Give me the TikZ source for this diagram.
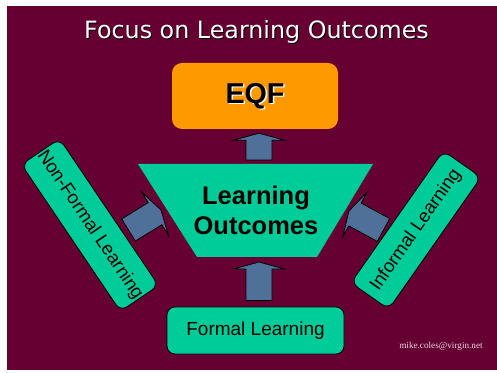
\documentclass[tikz,border=0pt]{standalone}
\usepackage{fontspec}
\setmainfont{Liberation Sans}
\newfontfamily\titlefont{DejaVu Sans}
\newfontfamily\mailfont{Liberation Serif}
\usetikzlibrary{calc,positioning}

\definecolor{slidebg}{HTML}{660033}
\definecolor{boxgreen}{HTML}{00CC99}
\definecolor{eqforange}{HTML}{FF9900}
\definecolor{arrowblue}{HTML}{4F7099}
\definecolor{mailgrey}{HTML}{E6D6DF}

% fat block arrow from tail (#1) to tip (#2)
\newcommand{\blockarrow}[2]{%
  \coordinate (hb) at ($(#2)!7pt!(#1)$);
  \filldraw[arrowbox] ($(#1)!13pt!90:(#2)$) -- ($(hb)!13pt!90:(#2)$)
    -- ($(hb)!25.5pt!90:(#2)$) -- (#2) -- ($(hb)!25.5pt!-90:(#2)$)
    -- ($(hb)!13pt!-90:(#2)$) -- ($(#1)!13pt!-90:(#2)$) -- cycle;}

\begin{document}
\begin{tikzpicture}[x=1pt,y=1pt,
  greenbox/.style={draw=black, line width=0.8pt, fill=boxgreen, rounded corners=8pt,
    inner sep=0pt, font=\fontsize{18.5}{22}\selectfont},
  arrowbox/.style={draw=black, line width=0.8pt, fill=arrowblue, line join=miter}]
  % page and slide background
  \fill[white] (0,0) rectangle (497,372);
  \fill[slidebg] (7,2) rectangle (497,366);
  \useasboundingbox (0,0) rectangle (497,372);
  % title with drop shadow
  \node[anchor=base, text=black, font=\titlefont\fontsize{23.8}{28}\selectfont]
    (titleshadow) at (257.5,332) {Focus on Learning Outcomes};
  \node[anchor=base, text=white, font=\titlefont\fontsize{23.8}{28}\selectfont]
    (title) at (256.5,333) {Focus on Learning Outcomes};
  % EQF box
  \node[fill=eqforange, rounded corners=10pt, minimum width=166pt, minimum height=66pt]
    (eqf) at (255,276) {};
  \node[text=white, font=\bfseries\fontsize{28.7}{32}\selectfont]
    (eqfshadow) at ($(eqf)+(1.5,-1.5)$) {EQF};
  \node[font=\bfseries\fontsize{28.7}{32}\selectfont] (eqftext) at (eqf) {EQF};
  % learning outcomes trapezium
  \fill[boxgreen] (138,208) -- (373,208) -- (317,115) -- (197,115) -- cycle;
  \coordinate (lotop) at (255.5,208);
  \coordinate (lobottom) at (257,115);
  \node[align=center, font=\bfseries\fontsize{25.5}{30}\selectfont]
    (lo) at (256,162) {Learning\\Outcomes};
  % the three sources
  \node[greenbox, font=\fontsize{19}{22}\selectfont, minimum width=177pt, minimum height=47pt]
    (formal) at (255.5,41.5) {Formal Learning};
  \node[greenbox, rotate=-56, minimum width=177pt, minimum height=46pt]
    (nonformal) at (90,147) {Non-Formal Learning};
  \node[greenbox, rotate=55, minimum width=161pt, minimum height=46pt]
    (informal) at (416,142) {Informal Learning};
  % block arrows
  \coordinate (nftail) at (128.5,142);
  \coordinate (nftip) at (161,162);
  \coordinate (inftail) at (383.5,142);
  \coordinate (inftip) at (348.8,160.8);
  \blockarrow{$(lotop)+(3.5,4)$}{$(eqf.south)+(4,-4)$}
  \blockarrow{$(formal.north)+(3.5,6)$}{$(lobottom)+(2,-5)$}
  \blockarrow{nftail}{nftip}
  \blockarrow{inftail}{inftip}
  % contact
  \node[text=mailgrey, font=\mailfont\fontsize{9.2}{11}\selectfont]
    (mail) at (441,26) {mike.coles@virgin.net};
\end{tikzpicture}
\end{document}
